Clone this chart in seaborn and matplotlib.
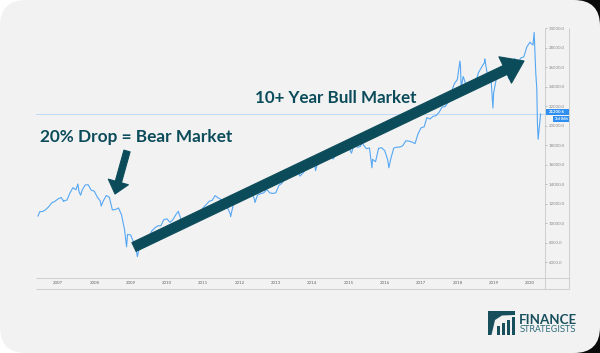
import numpy as np
import pandas as pd
import matplotlib
matplotlib.use("Agg")
import matplotlib.pyplot as plt
import seaborn as sns
from matplotlib.patches import FancyBboxPatch, Rectangle, Polygon, FancyArrowPatch
from matplotlib.ticker import FuncFormatter

# ---------------- data ----------------
monthly_start = "2006-06-30"
monthly_values = [
    11150, 11186, 11381, 11679, 12081, 12222, 12463,
    12622, 12269, 12354, 13063, 13628, 13409, 13212, 13358, 13896, 13930, 13372, 13265,
    12650, 12266, 12263, 12820, 12638, 11350, 11378, 11544, 10851, 9325, 8829, 8776,
    8001, 7063, 7609, 8168, 8500, 8447, 9172, 9496, 9712, 9713, 10345, 10428,
    10067, 10325, 10857, 11009, 10137, 9774, 10466, 10015, 10788, 11118, 11006, 11578,
    11892, 12226, 12320, 12811, 12570, 12414, 12143, 11614, 10913, 11955, 12046, 12218,
    12633, 12952, 13212, 13214, 12393, 12880, 13009, 13091, 13437, 13096, 13026, 13104,
    13861, 14054, 14579, 14840, 15116, 14910, 15500, 14810, 15130, 15546, 16086, 16577,
    15699, 16322, 16458, 16581, 16717, 16827, 16563, 17098, 17043, 17391, 17828, 17823,
    17165, 18133, 17776, 17841, 18011, 17620, 17690, 16528, 16285, 17664, 17720, 17425,
    16466, 16517, 17685, 17774, 17787, 17930, 18432, 18401, 18308, 18142, 19124, 19763,
    19864, 20812, 20663, 20941, 21009, 21350, 21891, 21948, 22405, 23377, 24272, 24719,
    26149, 25029, 24103, 24163, 24416, 24271, 25415, 25965, 26458, 25116, 25538, 23327,
    25000, 25916, 25929, 26593, 24815, 26600, 26864, 26403, 26917, 27046, 28051, 28538,
    28256,
]
event_dates = ["2006-06-13", "2007-02-27", "2007-07-19", "2007-08-16", "2008-03-10",
               "2008-11-20", "2009-03-09", "2010-04-26", "2010-07-02", "2011-04-29",
               "2011-10-03", "2012-06-04", "2014-02-03", "2015-05-19", "2015-08-25",
               "2016-02-11", "2018-01-26", "2018-02-08", "2018-10-03", "2018-12-24",
               "2019-06-03", "2019-08-14", "2020-02-12", "2020-02-28", "2020-03-09",
               "2020-03-16", "2020-03-23", "2020-04-17"]
event_values = [10706, 12216, 14000, 12845, 11740,
                7552, 6547, 11205, 9686, 12810,
                10655, 12101, 15372, 18312, 15666,
                15660, 26617, 23860, 26828, 21792,
                24819, 25479, 29551, 25409, 23851,
                20188, 18592, 21200]

years = list(range(2007, 2021))
year_labels = [str(y) for y in years]
y_ticks = list(range(6000, 30001, 2000))
last_price = 21200.6
last_price_label = "21200.6"
countdown_label = "3d 06h"
title_bear = "20% Drop = Bear Market"
title_bull = "10+ Year Bull Market"
brand_top = "FINANCE"
brand_bottom = "STRATEGISTS"

# ---------------- frame ----------------
monthly_dates = pd.date_range(monthly_start, periods=len(monthly_values), freq="ME")
df = pd.DataFrame({
    "date": list(monthly_dates) + list(pd.to_datetime(event_dates)),
    "value": monthly_values + event_values,
}).sort_values("date").reset_index(drop=True)

sns.set_theme(style="white")
plt.rcParams["font.family"] = ["Lato", "DejaVu Sans"]

W, H = 600, 353
fig = plt.figure(figsize=(6, 3.53), dpi=100)
fig.patch.set_facecolor("white")

bg = fig.add_axes([0, 0, 1, 1], zorder=0)
bg.set_xlim(0, W); bg.set_ylim(H, 0); bg.axis("off")
bg.add_patch(Rectangle((300, 0), 300, 353, color="#0a0a0a", lw=0))
bg.add_patch(FancyBboxPatch((0, 0), 600, 353,
                            boxstyle="round,pad=0,rounding_size=26",
                            fc="#f2f2f2", ec="none"))
frame_c = "#c9c9c9"
for (x0, y0, x1, y1) in [(36, 278, 569, 278), (36, 289, 569, 289),
                         (545, 28, 545, 289), (569, 28, 569, 289)]:
    bg.plot([x0, x1], [y0, y1], color=frame_c, lw=0.6, solid_capstyle="butt")

# main chart axes: x 36..545 px, y 28..278 px
ax = fig.add_axes([36 / W, (H - 278) / H, 509 / W, 250 / H], zorder=2)
ax.patch.set_visible(False)
sns.lineplot(data=df, x="date", y="value", ax=ax, color="#55a7f4", lw=0.8)
ax.axhline(last_price, color="#b3d6f7", lw=0.6, zorder=1)

ax.set_xlim(pd.Timestamp("2006-05-24"), pd.Timestamp("2020-05-31"))
ax.set_ylim(4360, 30000)
for s in ax.spines.values():
    s.set_visible(False)
ax.set_xlabel(""); ax.set_ylabel("")

ax.set_xticks([pd.Timestamp(f"{y}-01-01") for y in years])
ax.set_xticklabels(year_labels)
ax.yaxis.tick_right()
ax.set_yticks(y_ticks)
ax.yaxis.set_major_formatter(FuncFormatter(lambda v, p: f"{v:.1f}"))
ax.tick_params(axis="x", direction="in", length=1.5, width=0.4, colors="#9a9a9a",
               labelsize=3.2, labelcolor="#666666", pad=2.2)
ax.tick_params(axis="y", direction="out", length=1.5, width=0.4, colors="#9a9a9a",
               labelsize=3.2, labelcolor="#8a8a8a", pad=1.2)

# ---------------- overlay (pixel coordinates) ----------------
ov = fig.add_axes([0, 0, 1, 1], zorder=5)
ov.set_xlim(0, W); ov.set_ylim(H, 0); ov.axis("off")

teal = "#0c4c5a"
renderer = fig.canvas.get_renderer()


def fit_text(x, y, s, width_px, size0, **kw):
    t = ov.text(x, y, s, fontsize=size0, **kw)
    w = t.get_window_extent(renderer).width
    t.set_fontsize(size0 * width_px / w)
    return t


# price label boxes
ov.add_patch(Rectangle((545.5, 109), 23.5, 6.2, color="#2f8ff0", lw=0))
ov.text(557, 112.2, last_price_label, color="white", fontsize=3.2,
        ha="center", va="center", fontweight="bold")
ov.add_patch(Rectangle((553, 116), 16, 5.5, color="#2f8ff0", lw=0))
ov.text(561, 118.9, countdown_label, color="white", fontsize=3.0,
        ha="center", va="center", fontweight="bold")

# annotation texts
fit_text(40, 137, title_bear, 192, 11, color=teal, fontweight="bold",
         ha="left", va="center")
fit_text(255, 98, title_bull, 162, 11, color=teal, fontweight="bold",
         ha="left", va="center")

# arrows
big = FancyArrowPatch((134, 247), (524, 61),
                      arrowstyle="simple,head_length=15,head_width=21,tail_width=7",
                      mutation_scale=1, shrinkA=0, shrinkB=0,
                      fc=teal, ec=teal, lw=0.8, joinstyle="round")
ov.add_patch(big)
small = FancyArrowPatch((127, 151), (115, 194),
                        arrowstyle="simple,head_length=9,head_width=15,tail_width=4.6",
                        mutation_scale=1, shrinkA=0, shrinkB=0,
                        fc=teal, ec=teal, lw=0.8, joinstyle="round")
ov.add_patch(small)

# logo icon
logo_c = "#174f5d"
ov.add_patch(Polygon([(488, 311), (515, 311), (515, 315), (502, 315.5),
                      (495, 320), (491.5, 335), (488, 335)],
                     closed=True, fc=logo_c, ec="none"))
for bx, top in [(497, 326), (502, 322.5), (507, 319.5), (511.5, 317)]:
    ov.add_patch(Rectangle((bx, top), 3, 335 - top, fc=logo_c, ec="none"))
fit_text(519, 324.5, brand_top, 58, 10, color=logo_c, fontweight="bold",
         ha="left", va="baseline")
fit_text(519.5, 332.5, brand_bottom, 56, 4.6, color="#2d6b78",
         ha="left", va="baseline", family="DejaVu Sans")

fig.savefig("out.png", dpi=100, facecolor=fig.get_facecolor())
